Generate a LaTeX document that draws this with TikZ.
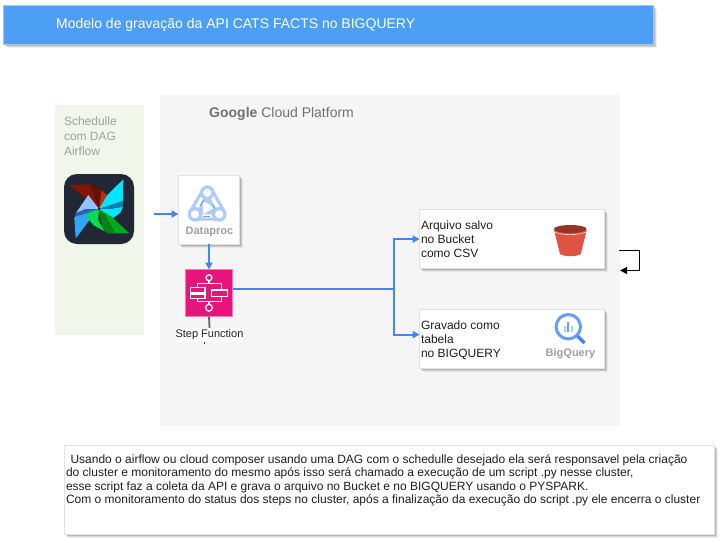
\documentclass[tikz,border=0pt]{standalone}
\usepackage{fontspec}
\setmainfont{Liberation Sans}
\usetikzlibrary{arrows.meta,shadows,positioning}
\definecolor{flowblue}{HTML}{4285F4}
\definecolor{titleblue}{HTML}{4D9FF5}
\definecolor{titleedge}{HTML}{A5C8F0}
\definecolor{panelgrey}{HTML}{F5F5F5}
\definecolor{panelgreen}{HTML}{F1F6EA}
\definecolor{mutedtext}{HTML}{A0A0A0}
\definecolor{gcptext}{HTML}{717171}
\definecolor{cardedge}{HTML}{E2E2E2}
\definecolor{sfpink}{HTML}{E7157B}
\definecolor{sfedge}{HTML}{F07CB6}
\definecolor{dpblue}{HTML}{AECBFA}
\definecolor{dpdark}{HTML}{669DF6}
\tikzset{
  softshadow/.style={
    drop shadow={shadow xshift=3pt,shadow yshift=-3.5pt,opacity=.06,fill=black},
    drop shadow={shadow xshift=2pt,shadow yshift=-2.5pt,opacity=.10,fill=black},
    drop shadow={shadow xshift=1pt,shadow yshift=-1.5pt,opacity=.14,fill=black}},
  box/.style={rectangle,anchor=north west,inner sep=0pt,outer sep=0pt},
  card/.style={box,fill=white,draw=cardedge,line width=.8pt,softshadow},
  label/.style={anchor=north west,inner sep=0pt,outer sep=0pt,align=left,font=\fontsize{12}{14}\selectfont,text=black!88},
  flow/.style={draw=flowblue,line width=1.8pt,-{Triangle[length=7pt,width=7pt]}},
  flowplain/.style={draw=flowblue,line width=1.8pt},
}
\begin{document}
\begin{tikzpicture}[x=1pt,y=-1pt]
\path[use as bounding box,fill=white] (0,0) rectangle (721,542);

% title
\node[box,fill=titleblue,draw=titleedge,line width=.8pt,softshadow,minimum width=650pt,minimum height=39pt] (title) at (3.8,5) {};
\node[anchor=west,inner sep=0pt,text=white,font=\fontsize{14}{16}\selectfont] (titletext) at (56,24.5) {Modelo de gravação da API CATS FACTS no BIGQUERY};

% panels
\node[box,fill=panelgreen,minimum width=89pt,minimum height=229.5pt] (schedule) at (55,105) {};
\node[label,text=mutedtext,font=\fontsize{12}{15}\selectfont] (scheduletext) at (64,116.5) {Schedulle\\com DAG\\Airflow};
\node[box,fill=panelgrey,minimum width=460pt,minimum height=331pt] (gcp) at (160,95) {};
\node[anchor=west,inner sep=0pt,text=gcptext,font=\fontsize{14}{16}\selectfont] (gcptitle) at (209,114) {\textbf{Google} Cloud Platform};

% airflow icon
\fill[rounded corners=13pt,fill={rgb,255:red,33;green,39;blue,53}] (64,174) rectangle (134,244);
\fill[fill={rgb,255:red,130;green,22;blue,0}] (69.3,185) -- (90,184.3) -- (99,209) -- cycle;
\fill[fill={rgb,255:red,104;green,16;blue,0}] (90,184.3) -- (101.7,190) -- (104,204) -- (99,209) -- cycle;
\fill[fill={rgb,255:red,190;green,48;blue,0}] (101.7,190) -- (112.7,201) -- (103.3,206.7) -- (99,209) -- cycle;
\fill[fill={rgb,255:red,144;green,195;blue,255}] (88.3,195) -- (99,209) -- (86,209) -- (76,213) -- cycle;
\fill[fill={rgb,255:red,40;green,100;blue,190}] (76,213) -- (86,209) -- (99,209) -- (88,213) -- (74.3,219) -- cycle;
\fill[fill={rgb,255:red,50;green,165;blue,255}] (74.3,217) -- (88,213) -- (99,209) -- (88,222) -- (75.7,238.5) -- cycle;
\fill[fill={rgb,255:red,0;green,229;blue,255}] (123.3,179.3) -- (123,201) -- (99,209) -- (107.3,195) -- cycle;
\fill[fill={rgb,255:red,10;green,127;blue,176}] (99,209) -- (123.3,200.5) -- (123,207) -- (110,209) -- cycle;
\fill[fill={rgb,255:red,0;green,229;blue,255}] (99,209) -- (110,209) -- (123,207) -- (120,213) -- (108,221.7) -- cycle;
\fill[fill={rgb,255:red,0;green,170;blue,30}] (129.3,233.3) -- (108.3,233.3) -- (103,230) -- (99,209) -- (112,217) -- cycle;
\fill[fill={rgb,255:red,0;green,130;blue,25}] (99,209) -- (105,214) -- (115,233) -- (108.3,233.3) -- (103,230) -- cycle;
\fill[fill={rgb,255:red,0;green,220;blue,80}] (85,215) -- (91.7,211.7) -- (99,209) -- (98.3,220) -- (104,231) -- (93.3,225) -- cycle;
\fill[black] (99,209) circle (1.1);

% dataproc
\node[card,minimum width=61pt,minimum height=69pt] (dataproc) at (178.5,175) {};
\fill[dpblue] (207.3,192.7) -- (195,214.3) -- (219.3,214.3) -- cycle;
\draw[dpblue,line width=3pt,line join=round] (203,190) -- (190.5,211) -- (195,219) -- (219.3,219) -- (224,211) -- (212,190);
\fill[white] (202.8,201) -- (202.8,214.5) -- (214.5,207.5) -- cycle;
\draw[dpdark,line width=1.2pt] (204,199.5) -- (200.5,205.5);
\draw[dpdark,line width=1.2pt] (212.5,205) -- (216,211);
\draw[dpdark,line width=1.2pt] (203,216.5) -- (210,216.5);
\draw[dpblue,line width=3.2pt,fill=white] (207.3,192.7) circle (5.7);
\draw[dpblue,line width=3.2pt,fill=white] (195,214.3) circle (5.7);
\draw[dpblue,line width=3.2pt,fill=white] (219.3,214.3) circle (5.7);
\node[inner sep=0pt,text=mutedtext,font=\fontsize{11}{13}\bfseries\selectfont] (dataproctext) at (209.5,231.5) {Dataproc};

% step function
\node[box,fill=sfpink,draw=sfedge,line width=.8pt,minimum width=47pt,minimum height=47pt] (step) at (185.5,269.5) {};
\begin{scope}[draw=white,line width=1.25pt]
\draw (197.3,283.3) rectangle (221.7,301.7);
\draw (209,280.7) -- (209,283.3);
\draw (209,301.7) -- (209,304.2);
\draw[fill=sfpink] (209,277.7) circle (3);
\draw[fill=sfpink] (209,307.7) circle (3.4);
\draw[fill=sfpink] (190.7,287.7) rectangle (205,293);
\draw[fill=sfpink] (190.7,294.3) rectangle (205,298.3);
\draw[fill=sfpink] (211.7,290) rectangle (227.7,296.7);
\end{scope}
\node[fill=white,inner sep=0pt,minimum width=67pt,minimum height=14pt,font=\fontsize{11}{13}\selectfont,text=black!88] (steplabel) at (209.5,335) {Step Function};
\draw[black!60,line width=1.8pt] (step.south) -- (steplabel.north);
\coordinate (tickA) at (204.7,342.4);
\coordinate (tickB) at (204.7,344);
\draw[black!70,line width=.7pt] (tickA) -- (tickB);

% result cards
\node[card,minimum width=185pt,minimum height=59pt] (bucketcard) at (419.6,209.6) {};
\node[label] (buckettext) at (421,221) {Arquivo salvo\\no Bucket\\como CSV};
\fill[fill={rgb,255:red,224;green,82;blue,67}] (554,230) -- (586.7,230) -- (580.7,254) .. controls (576,257) and (565,257) .. (560,254) -- cycle;
\draw[white!85!red,line width=.6pt] (554.3,232) .. controls (562,235.5) and (578,235.5) .. (586.4,232);
\fill[fill={rgb,255:red,150;green,52;blue,38}] (570.3,229) ellipse (16.3 and 4);
\node[card,minimum width=185pt,minimum height=59pt] (bqcard) at (419.6,309.6) {};
\node[label] (bqtext) at (421,321) {Gravado como\\tabela\\no BIGQUERY};
\fill[dpblue] (563.8,326) rectangle (565.8,332);
\fill[dpdark] (567.4,322) rectangle (569.4,332);
\fill[dpblue] (571,326) rectangle (573,332);
\draw[dpdark,line width=3pt] (568.3,326.7) circle (12.2);
\draw[flowblue,line width=3.2pt] (577.5,336) -- (584.5,343);
\node[inner sep=0pt,text=mutedtext,font=\fontsize{11}{13}\bfseries\selectfont] (bqname) at (570.5,353.5) {BigQuery};

% connectors
\coordinate (airflowout) at (154,214);
\coordinate (junction) at (394,289.3);
\draw[flow] (airflowout) -- (airflowout -| dataproc.west);
\draw[flow] (dataproc.south) -- (step.north);
\draw[flowplain] (step.east |- junction) -- (junction);
\draw[flow] (junction) |- (bucketcard.west);
\draw[flow] (junction) |- ([yshift=4.5pt]bqcard.west);
\coordinate (loopa) at (619,250);
\coordinate (loopb) at (639.5,250);
\coordinate (loopc) at (639.5,270.5);
\coordinate (loopd) at (620,270.5);
\draw[black,line width=1pt,-{Triangle[length=7pt,width=7pt]}] (loopa) -- (loopb) -- (loopc) -- (loopd);

% note
\node[card,minimum width=650pt,minimum height=89pt] (note) at (64.6,445) {};
\node[label,font=\fontsize{12}{13.6}\selectfont] (notetext) at (66,454.3) {\hspace{4.5pt}Usando o airflow ou cloud composer usando uma DAG com o schedulle desejado ela será responsavel pela criação\\do cluster e monitoramento do mesmo após isso será chamado a execução de um script .py nesse cluster,\\esse script faz a coleta da API e grava o arquivo no Bucket e no BIGQUERY usando o PYSPARK.\\Com o monitoramento do status dos steps no cluster, após a finalização da execução do script .py ele encerra o cluster};
\end{tikzpicture}
\end{document}
